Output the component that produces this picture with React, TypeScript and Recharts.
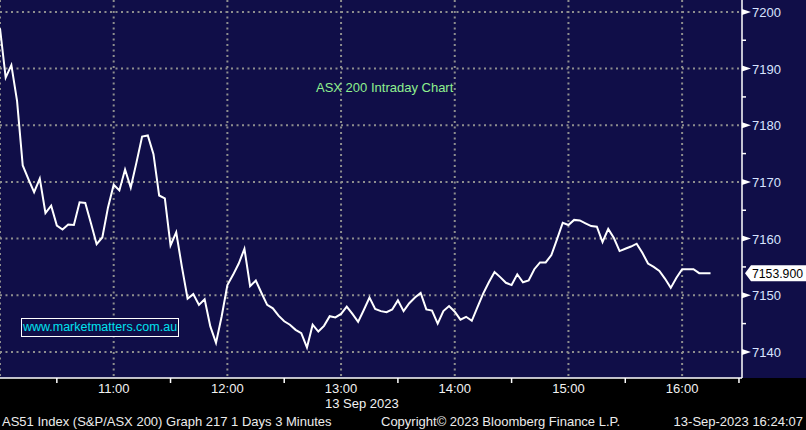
import {
  LineChart,
  Line,
  XAxis,
  YAxis,
  CartesianGrid,
  ReferenceLine,
} from "recharts";

// ASX 200 intraday, 3-minute closes, grouped by hour (10:00 onwards)
const hour10 = [
  7197.1, 7188.4, 7190.6, 7184.3, 7172.9, 7170.5, 7168.2, 7170.6, 7164.5, 7165.8,
  7162.3, 7161.6, 7162.5, 7162.4, 7166.4, 7166.3, 7162.7, 7159.0, 7160.2, 7165.5,
];
const hour11 = [
  7169.5, 7168.5, 7172.2, 7169.0, 7173.4, 7178.0, 7178.2, 7174.9, 7167.6, 7167.1,
  7158.8, 7161.1, 7155.0, 7149.4, 7150.2, 7148.3, 7149.3, 7144.5, 7141.6, 7146.3,
];
const hour12 = [
  7151.8, 7153.6, 7155.6, 7158.2, 7151.6, 7152.6, 7150.4, 7148.3, 7147.7, 7146.4,
  7145.4, 7144.8, 7143.9, 7143.3, 7140.8, 7144.8, 7143.6, 7144.6, 7146.3, 7146.1,
];
const hour13 = [
  7146.7, 7148.0, 7146.7, 7145.3, 7147.4, 7149.6, 7147.6, 7147.2, 7147.0, 7147.5,
  7149.1, 7147.2, 7148.6, 7149.6, 7150.4, 7147.5, 7147.3, 7145.0, 7147.2, 7148.1,
];
const hour14 = [
  7147.1, 7145.7, 7146.2, 7145.5, 7147.9, 7150.3, 7152.3, 7154.1, 7153.2, 7152.2,
  7151.8, 7153.7, 7152.3, 7152.6, 7154.6, 7155.8, 7155.8, 7157.1, 7159.9, 7162.8,
];
const hour15 = [
  7162.4, 7163.3, 7163.2, 7162.7, 7162.2, 7162.1, 7159.4, 7161.7, 7160.1, 7157.8,
  7158.2, 7158.6, 7159.1, 7157.5, 7155.6, 7155.0, 7154.3, 7152.9, 7151.3, 7153.1,
];
const hour16 = [7154.6, 7154.6, 7154.6, 7153.9, 7153.9, 7153.9];

const lastPrice = 7153.9;

const hourLabels = ["11:00", "12:00", "13:00", "14:00", "15:00", "16:00"];
const xTicks = [30, 60, 90, 120, 150, 180, 210, 240, 270, 300, 330, 360, 390];
const xGrid = [0, 60, 120, 180, 240, 300, 360];
const yTicks = [7140, 7145, 7150, 7155, 7160, 7165, 7170, 7175, 7180, 7185, 7190, 7195, 7200];
const yGrid = [7140, 7150, 7160, 7170, 7180, 7190, 7200];

const closes = [...hour10, ...hour11, ...hour12, ...hour13, ...hour14, ...hour15, ...hour16];
const data = closes.map((price, i) => ({ minute: i * 3, price }));

const NAVY = "#100e48";
const FONT = "'Liberation Sans', Arial, sans-serif";

function TimeTick(props: any) {
  const { x, y, payload } = props;
  const v = payload.value as number;
  if (v % 60 === 0) {
    return (
      <text x={x} y={y + 15} textAnchor="middle" fill="#f2f2f2" fontSize={13} fontFamily={FONT}>
        {hourLabels[v / 60 - 1]}
      </text>
    );
  }
  return <line x1={x} y1={y} x2={x} y2={y + 5} stroke="#ffffff" strokeWidth={1.5} />;
}

function PriceTick(props: any) {
  const { x, y, payload } = props;
  const v = payload.value as number;
  if (v % 10 === 0) {
    return (
      <g>
        <path d={`M${x},${y - 3} L${x + 9},${y} L${x},${y + 3} Z`} fill="#ffffff" />
        <text x={x + 10} y={y + 5} fill="#d8e4ff" fontSize={13} fontFamily={FONT}>
          {v}
        </text>
      </g>
    );
  }
  return <line x1={x} y1={y} x2={x + 4} y2={y} stroke="#ffffff" strokeWidth={1.5} />;
}

function LastPriceLabel(props: any) {
  const { viewBox } = props;
  const left = viewBox.x + viewBox.width + 3;
  const y = viewBox.y;
  return (
    <g>
      <path
        d={`M${left},${y} L${left + 6},${y - 8} L${left + 62},${y - 8} L${left + 62},${y + 8} L${left + 6},${y + 8} Z`}
        fill="#ffffff"
      />
      <text
        x={left + 7}
        y={y + 5}
        fill="#000000"
        fontSize={13}
        fontFamily={FONT}
        textLength={51}
        lengthAdjust="spacingAndGlyphs"
      >
        {lastPrice.toFixed(3)}
      </text>
    </g>
  );
}

export default function App() {
  return (
    <div style={{ position: "relative", width: 806, height: 430, background: "#000000", overflow: "hidden" }}>
      <style>{`body{margin:0}`}</style>
      <div style={{ position: "absolute", left: 0, top: 0, width: 806, height: 378, background: NAVY }} />
      <div style={{ position: "absolute", left: 0, top: 0 }}>
        <LineChart width={806} height={430} data={data} margin={{ top: 0, right: 0, bottom: 0, left: 0 }}>
          <CartesianGrid
            stroke="#8e8e8e"
            strokeWidth={2}
            strokeDasharray="2 3.5"
            horizontalValues={yGrid}
            verticalValues={xGrid}
          />
          <XAxis
            dataKey="minute"
            type="number"
            domain={[0, 391.6]}
            allowDataOverflow
            ticks={xTicks}
            interval={0}
            height={52}
            tickSize={0}
            tickMargin={0}
            tickLine={false}
            axisLine={{ stroke: "#ffffff", strokeWidth: 1.5 }}
            tick={<TimeTick />}
          />
          <YAxis
            orientation="right"
            type="number"
            domain={[7135.4, 7202.1]}
            allowDataOverflow
            ticks={yTicks}
            interval={0}
            width={64}
            tickSize={0}
            tickMargin={0}
            tickLine={false}
            axisLine={{ stroke: "#ffffff", strokeWidth: 1.5 }}
            tick={<PriceTick />}
          />
          <ReferenceLine y={lastPrice} stroke="none" ifOverflow="visible" label={<LastPriceLabel />} />
          <Line
            type="linear"
            dataKey="price"
            stroke="#ffffff"
            strokeWidth={2}
            dot={false}
            activeDot={false}
            isAnimationActive={false}
          />
        </LineChart>
      </div>
      <div
        style={{
          position: "absolute",
          left: 316,
          top: 80,
          color: "#8ff08f",
          fontFamily: FONT,
          fontSize: 13,
          whiteSpace: "nowrap",
        }}
      >
        ASX 200 Intraday Chart
      </div>
      <div
        style={{
          position: "absolute",
          left: 21,
          top: 318,
          width: 156,
          height: 17,
          border: "1px solid #ffffff",
          background: NAVY,
          color: "#00e2ee",
          fontFamily: FONT,
          fontSize: 12.5,
          lineHeight: "17px",
          textAlign: "center",
          whiteSpace: "nowrap",
        }}
      >
        www.marketmatters.com.au
      </div>
      <div style={{ position: "absolute", left: 325, top: 396, color: "#f2f2f2", fontFamily: FONT, fontSize: 13, whiteSpace: "nowrap" }}>
        13 Sep 2023
      </div>
      <div style={{ position: "absolute", left: 2, top: 414, color: "#ececec", fontFamily: FONT, fontSize: 13, whiteSpace: "nowrap" }}>
        AS51 Index (S&amp;P/ASX 200) Graph 217 1 Days 3 Minutes
      </div>
      <div style={{ position: "absolute", left: 381, top: 414, color: "#ececec", fontFamily: FONT, fontSize: 13, whiteSpace: "nowrap" }}>
        Copyright© 2023 Bloomberg Finance L.P.
      </div>
      <div style={{ position: "absolute", right: 3, top: 414, color: "#ececec", fontFamily: FONT, fontSize: 13, whiteSpace: "nowrap" }}>
        13-Sep-2023 16:24:07
      </div>
    </div>
  );
}
